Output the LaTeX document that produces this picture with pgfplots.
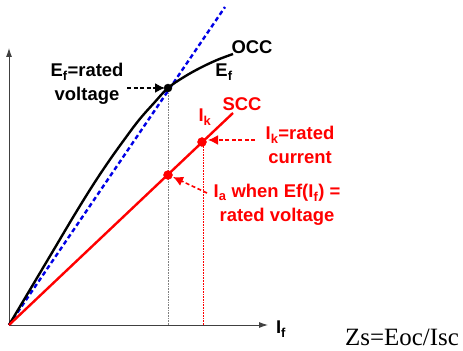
\documentclass[border=0pt]{standalone}
\usepackage{pgfplots}
\pgfplotsset{compat=1.18}
\usetikzlibrary{arrows.meta}
\usepackage{fontspec}
\setmainfont{Liberation Sans}
\newfontfamily\timesf{Liberation Serif}
\definecolor{occblue}{RGB}{0,0,230}
\definecolor{sccred}{RGB}{255,0,0}
\tikzset{lbl/.style={inner sep=0pt, align=center, font=\fontsize{18.5}{24}\selectfont\bfseries}}
\begin{document}
\begin{tikzpicture}
\useasboundingbox (-9bp,-26bp) rectangle (454bp,325bp);
\begin{axis}[
  scale only axis, width=259bp, height=277bp,
  xmin=0, xmax=259, ymin=0, ymax=277,
  axis lines=left, clip=false,
  axis line style={line width=0.9bp, draw=black!75, -{Latex[length=9bp,width=6bp]}},
  xtick=\empty, ytick=\empty,
]
% guide lines
\addplot[gray, densely dotted, line width=0.6bp] coordinates {(159,0) (159,237)};
\addplot[sccred, densely dotted, line width=0.6bp] coordinates {(194,0) (194,183)};
% air-gap line
\addplot[occblue, line width=2.4bp, dash pattern=on 4.5bp off 3bp] coordinates {(0,0) (216,318)};
% OCC
\addplot[black, line width=2.4bp, smooth, tension=0.6] coordinates {
(0,0) (22,37) (44,74) (66,111) (84,140) (100,164) (115,185) (130,205) (145,222) (159,237) (175,248) (191,257) (208,265) (224,271)};
% SCC
\addplot[sccred, line width=2.4bp] coordinates {(0,0) (224,212)};
% dots
\addplot[only marks, mark=*, mark size=4bp, black] coordinates {(159,237)};
\addplot[only marks, mark=*, mark size=4.5bp, sccred] coordinates {(159,150) (193,183)};
% arrows
\addplot[black, line width=1.6bp, dash pattern=on 4bp off 2.5bp, -{Latex[length=10bp,width=10bp]}] coordinates {(118,237) (156,237)};
\addplot[sccred, line width=1.6bp, dash pattern=on 4bp off 2.5bp, -{Latex[length=10bp,width=10bp]}] coordinates {(246,185) (199,185)};
\addplot[sccred, line width=1.6bp, dash pattern=on 4bp off 2.5bp, -{Latex[length=10bp,width=10bp]}] coordinates {(198,132) (164,148)};
% labels
\node[lbl] at (axis cs:78,241) {E\textsubscript{f}=rated\\voltage};
\node[lbl] at (axis cs:243,278) {OCC};
\node[lbl] at (axis cs:215,253) {E\textsubscript{f}};
\node[lbl, text=sccred] at (axis cs:196,208) {I\textsubscript{k}};
\node[lbl, text=sccred] at (axis cs:233,221) {SCC};
\node[lbl, text=sccred] at (axis cs:291,180) {I\textsubscript{k}=rated\\current};
\node[lbl, text=sccred] at (axis cs:268,120) {I\textsubscript{a} when Ef(I\textsubscript{f}) =\\rated voltage};
\node[lbl] at (axis cs:272,-4) {I\textsubscript{f}};
\node[inner sep=0pt, font=\timesf\fontsize{25}{28}\selectfont] at (axis cs:393,-12) {Zs=Eoc/Isc};
\end{axis}
\end{tikzpicture}
\end{document}
